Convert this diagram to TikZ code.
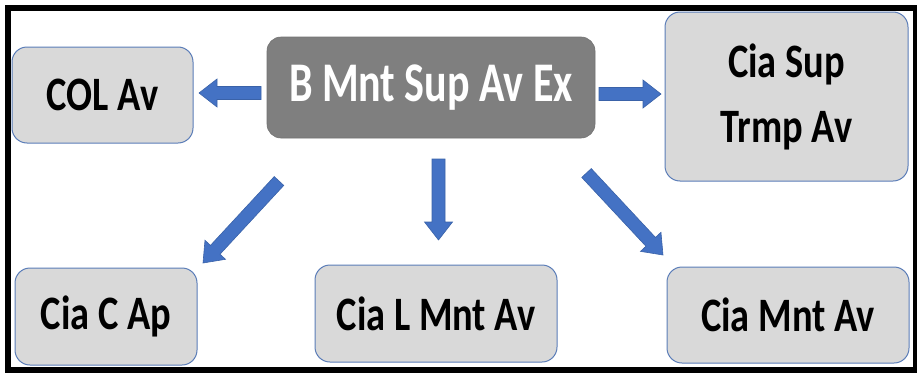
\documentclass[tikz,border=0pt]{standalone}
\usepackage{fontspec}
\setmainfont{Carlito}
\newfontfamily\narrowbold[FakeStretch=0.8]{Carlito Bold}
\newfontfamily\hubbold[FakeStretch=0.75]{Carlito Bold}
\usetikzlibrary{calc}
\definecolor{boxfill}{HTML}{D9D9D9}
\definecolor{boxline}{HTML}{5B7DB8}
\definecolor{hubfill}{HTML}{7F7F7F}
\definecolor{arrowfill}{HTML}{4472C4}
\definecolor{arrowline}{HTML}{3A62A8}

\tikzset{
  unitbox/.style={draw=boxline, line width=1pt, fill=boxfill, rounded corners=15pt,
    align=center, inner sep=0pt, font=\fontsize{48}{65}\narrowbold, text=black},
  hubbox/.style={draw=hubfill!90!black, line width=0.6pt, fill=hubfill, rounded corners=14pt,
    align=center, inner sep=0pt, font=\fontsize{56}{60}\hubbold, text=white},
  blockarrow/.style={fill=arrowfill, draw=arrowline, line width=0.6pt, line join=miter}
}

% block arrow from coordinate #1 to tip coordinate #2
\newcommand\blockarr[2]{%
  \coordinate (hb) at ($(#2)!18pt!(#1)$);
  \draw[blockarrow]
    ($(#1)!6.5pt!90:(#2)$) -- ($(hb)!6.5pt!90:(#2)$) -- ($(hb)!14pt!90:(#2)$)
    -- (#2) -- ($(hb)!14pt!-90:(#2)$) -- ($(hb)!6.5pt!-90:(#2)$)
    -- ($(#1)!6.5pt!-90:(#2)$) -- cycle;
}

\begin{document}
\begin{tikzpicture}[x=1pt, y=-1pt]
  \useasboundingbox (0,0) rectangle (917,372);

  % outer frame
  \draw[line width=6pt] (8,8) rectangle (916,370);

  % hub
  \node[hubbox, minimum width=328pt, minimum height=101pt] (hub) at (431,87.5) {B Mnt Sup Av Ex};

  % units
  \node[unitbox, minimum width=181pt, minimum height=96pt] (col) at (102.5,95) {COL Av};
  \node[unitbox, minimum width=243pt, minimum height=169pt] (trmp) at (786.5,96.5) {Cia Sup\\Trmp Av};
  \node[unitbox, minimum width=182pt, minimum height=97pt] (cap) at (106,316.5) {Cia C Ap};
  \node[unitbox, minimum width=242pt, minimum height=97pt] (lmnt) at (436,313.5) {Cia L Mnt Av};
  \node[unitbox, minimum width=242pt, minimum height=96pt] (mnt) at (788,315) {Cia Mnt Av};

  % arrow anchors
  \coordinate (a1s) at (261,93);   \coordinate (a1t) at (199,93);
  \coordinate (a2s) at (599,94);   \coordinate (a2t) at (661,94);
  \coordinate (a3s) at (438.5,159);\coordinate (a3t) at (438.5,240);
  \coordinate (a4s) at (279,181);  \coordinate (a4t) at (203,263);
  \coordinate (a5s) at (586.5,173);\coordinate (a5t) at (663,255);

  \blockarr{a1s}{a1t}
  \blockarr{a2s}{a2t}
  \blockarr{a3s}{a3t}
  \blockarr{a4s}{a4t}
  \blockarr{a5s}{a5t}
\end{tikzpicture}
\end{document}
